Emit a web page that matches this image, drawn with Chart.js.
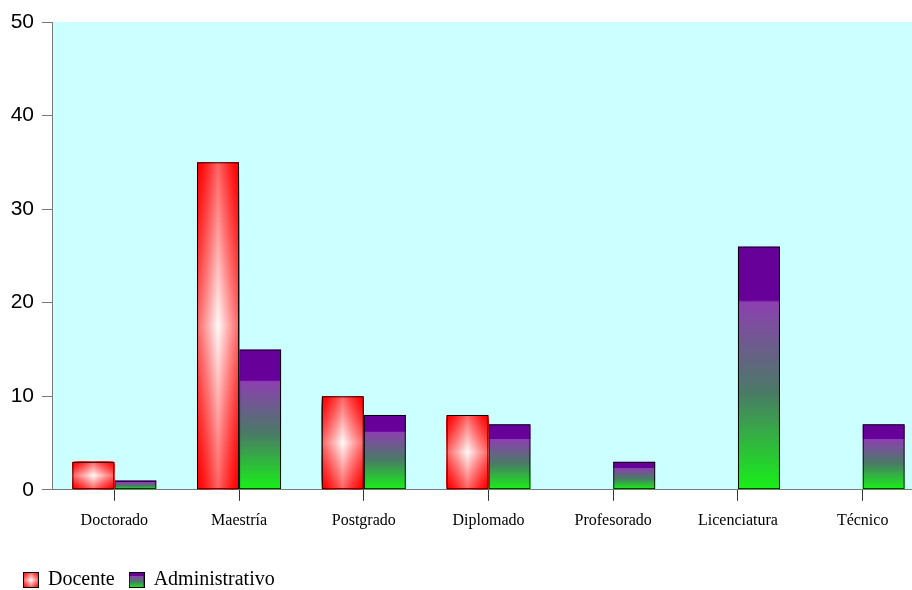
<!DOCTYPE html>
<html>
<head>
<meta charset="utf-8">
<script src="https://cdn.jsdelivr.net/npm/chart.js@4.4.0/dist/chart.umd.min.js"></script>
<style>
  html, body { margin: 0; padding: 0; background: #ffffff; overflow: hidden; }
  #wrap { width: 912px; height: 590px; overflow: hidden; }
</style>
</head>
<body>
<div id="wrap"><canvas id="grafico" width="925" height="590"></canvas></div>
<script>
// datos
const categorias = ['Doctorado', 'Maestría', 'Postgrado', 'Diplomado', 'Profesorado', 'Licenciatura', 'Técnico'];
const docente = [3, 35, 10, 8, 0, 0, 0];
const administrativo = [1, 15, 8, 7, 3, 26, 7];
const ticksY = [0, 10, 20, 30, 40, 50];

// relleno tipo rombo: blanco en el centro, rojo en las esquinas
function rellenoRombo(ctx, x0, y0, x1, y1) {
  const cx = (x0 + x1) / 2, cy = (y0 + y1) / 2;
  const hw = (x1 - x0) / 2, hh = (y1 - y0) / 2;
  ctx.save();
  ctx.beginPath();
  ctx.rect(x0, y0, x1 - x0, y1 - y0);
  ctx.clip();
  const pasos = 40;
  for (let i = pasos; i > 0; i--) {
    const t = i / pasos;
    const c = 2 * t;
    const gb = Math.round(255 * Math.pow(1 - t, 1.3));
    ctx.fillStyle = 'rgb(255,' + gb + ',' + gb + ')';
    ctx.beginPath();
    ctx.moveTo(cx, cy - c * hh);
    ctx.lineTo(cx + c * hw, cy);
    ctx.lineTo(cx, cy + c * hh);
    ctx.lineTo(cx - c * hw, cy);
    ctx.closePath();
    ctx.fill();
  }
  ctx.restore();
}

// relleno vertical: morado arriba, verde abajo
function rellenoVertical(ctx, x0, y0, x1, y1) {
  const g = ctx.createLinearGradient(0, y0, 0, y1);
  g.addColorStop(0, '#660099');
  g.addColorStop(0.22, '#660099');
  g.addColorStop(0.23, '#8c40b0');
  g.addColorStop(0.6, '#4a7a66');
  g.addColorStop(1, '#18f018');
  ctx.fillStyle = g;
  ctx.fillRect(x0, y0, x1 - x0, y1 - y0);
}

function icono(fn) {
  const c = document.createElement('canvas');
  c.width = 16; c.height = 16;
  const cx = c.getContext('2d');
  fn(cx, 0, 0, 16, 16);
  cx.strokeStyle = '#000000';
  cx.lineWidth = 1;
  cx.strokeRect(0.5, 0.5, 15, 15);
  return c;
}
const iconos = [icono(rellenoRombo), icono(rellenoVertical)];

const rellenos = {
  id: 'rellenos',
  beforeDraw(chart) {
    const a = chart.chartArea;
    chart.ctx.save();
    chart.ctx.fillStyle = '#ccffff';
    chart.ctx.fillRect(a.left, a.top, a.right - a.left, a.bottom - a.top);
    chart.ctx.restore();
  },
  beforeDatasetDraw(chart, args) {
    const fn = args.index === 0 ? rellenoRombo : rellenoVertical;
    args.meta.data.forEach(function(bar) {
      const p = bar.getProps(['x', 'y', 'base', 'width'], true);
      if (Math.abs(p.base - p.y) < 0.5) return;
      fn(chart.ctx, p.x - p.width / 2, Math.min(p.y, p.base), p.x + p.width / 2, Math.max(p.y, p.base));
    });
  },
  afterLayout(chart) {
    // colocar la leyenda como en el original
    chart.legend.left += 9;
    chart.legend.right += 9;
    chart.legend.top += 15;
    chart.legend.bottom += 15;
  }
};

const estiloBarra = {
  categoryPercentage: 0.674,
  barPercentage: 1,
  backgroundColor: 'rgba(0,0,0,0)',
  borderColor: '#000000',
  borderWidth: c => (c.raw === 0 ? 0 : 1),
  borderSkipped: false
};

const ctx = document.getElementById('grafico').getContext('2d');
new Chart(ctx, {
  type: 'bar',
  data: {
    labels: categorias,
    datasets: [
      Object.assign({ label: 'Docente', data: docente }, estiloBarra),
      Object.assign({ label: 'Administrativo', data: administrativo }, estiloBarra)
    ]
  },
  options: {
    responsive: false,
    animation: false,
    layout: { padding: { top: 22, right: 0, bottom: 5, left: 0 } },
    scales: {
      x: {
        offset: true,
        grid: { offset: false, drawOnChartArea: false, drawTicks: true, tickLength: 11, tickColor: '#333333' },
        border: { color: '#7a7a7a', width: 1 },
        ticks: { color: '#000000', padding: 10, maxRotation: 0, font: { family: 'Liberation Serif', size: 16 } }
      },
      y: {
        min: 0,
        max: 50,
        afterBuildTicks: s => { s.ticks = ticksY.map(v => ({ value: v })); },
        afterFit: s => { s.width = 52; },
        grid: { drawOnChartArea: false, drawTicks: true, tickLength: 10, tickColor: '#7a7a7a' },
        border: { color: '#7a7a7a', width: 1 },
        ticks: { color: '#000000', padding: 8, font: { family: 'Liberation Sans', size: 21 } }
      }
    },
    plugins: {
      tooltip: { enabled: false },
      legend: {
        position: 'bottom',
        align: 'start',
        labels: {
          usePointStyle: true,
          boxWidth: 14,
          padding: 15,
          color: '#000000',
          font: { family: 'Liberation Serif', size: 20 },
          generateLabels: chart => chart.data.datasets.map((ds, i) => ({
            text: ds.label,
            pointStyle: iconos[i],
            fillStyle: 'rgba(0,0,0,0)',
            strokeStyle: 'rgba(0,0,0,0)',
            lineWidth: 0,
            hidden: false,
            datasetIndex: i
          }))
        }
      }
    }
  },
  plugins: [rellenos]
});
</script>
</body>
</html>
